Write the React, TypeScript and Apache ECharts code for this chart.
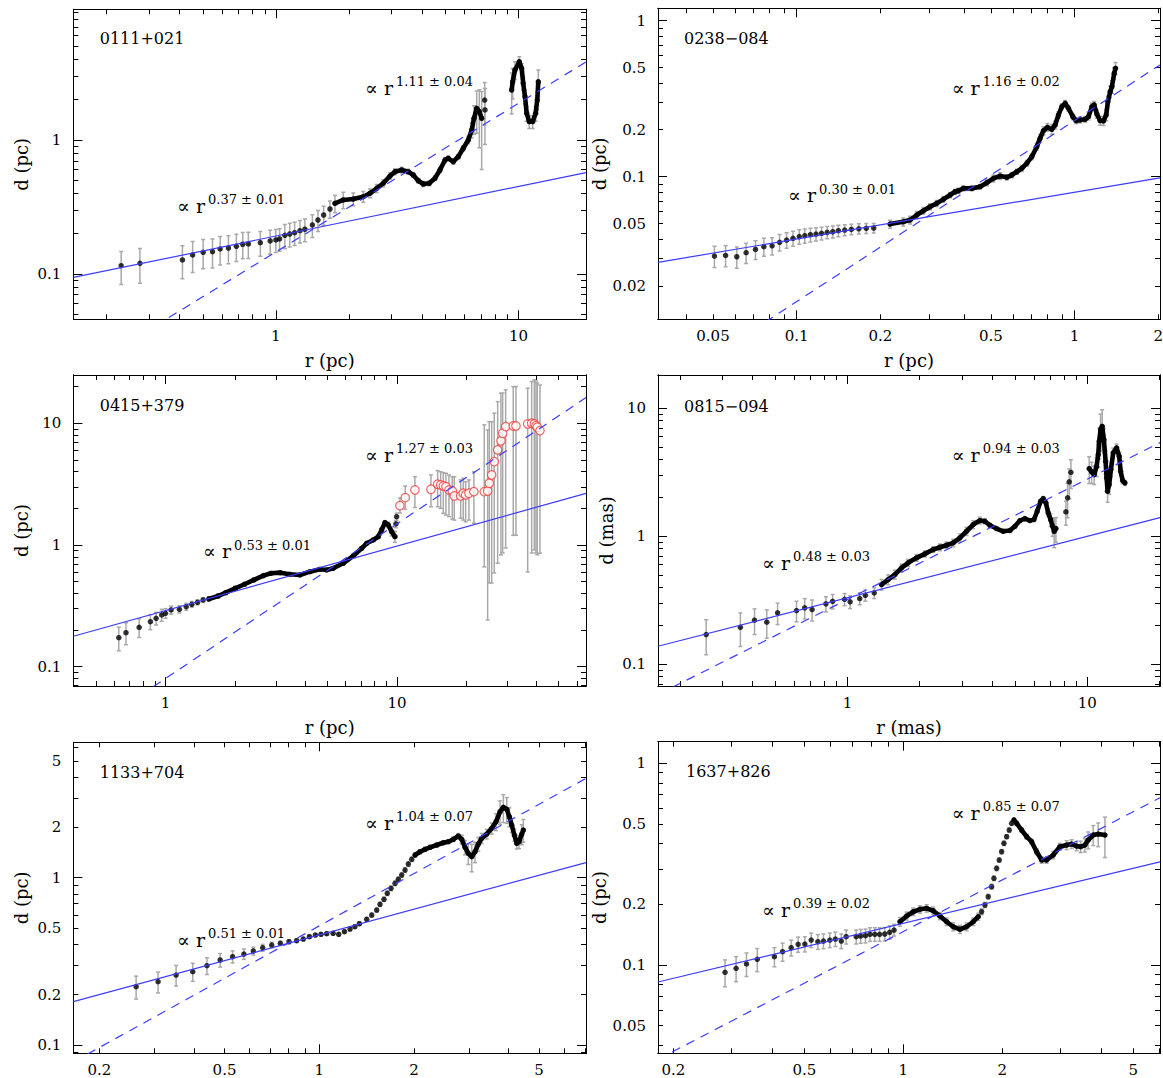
import { useEffect, useRef } from 'react';
import * as echarts from 'echarts';

// Jet width d against distance r, six sources on log-log axes.
// Point rows are [r, d, error on d]; open-circle rows are [r, d, lower, upper].
type Pt = [number, number, number];
type Bar = [number, number, number, number];

// ---------- 0111+021 ----------
const s0111XRange = [0.1465, 18.96];
const s0111YRange = [0.0459, 9.45];
const s0111XTicks = [1, 10];
const s0111YTicks = [0.1, 1];
const s0111Dots: Pt[] = [
  [0.2305, 0.1153, 0.032], [0.2754, 0.1202, 0.035], [0.4122, 0.1272, 0.035], [0.4541, 0.1387, 0.036],
  [0.5018, 0.1452, 0.036], [0.5483, 0.1467, 0.036], [0.5895, 0.1537, 0.037], [0.6377, 0.1563, 0.037],
  [0.6875, 0.161, 0.037], [0.7305, 0.1667, 0.037], [0.7703, 0.1675, 0.037], [0.863, 0.1714, 0.036],
  [0.9474, 0.1763, 0.036], [1.0, 0.1794, 0.035], [1.036, 0.1825, 0.035], [1.089, 0.1944, 0.04],
  [1.141, 0.1988, 0.04], [1.195, 0.2033, 0.04], [1.257, 0.2104, 0.04], [1.317, 0.2157, 0.042],
  [1.414, 0.2321, 0.045], [1.491, 0.2529, 0.045], [1.574, 0.2756, 0.045], [1.671, 0.3055, 0.045],
  [7.25, 1.988, 0.7], [7.27, 1.675, 0.75],
];
const s0111Track: Pt[] = [
  [1.752, 0.337, 0.05], [1.896, 0.3567, 0.05], [2.084, 0.3628, 0.04], [2.292, 0.3775, 0.035],
  [2.442, 0.4001, 0.03], [2.603, 0.436, 0.03], [2.771, 0.4752, 0.03], [2.952, 0.5385, 0.03],
  [3.095, 0.58, 0.03], [3.299, 0.5972, 0.03], [3.512, 0.58, 0.025], [3.683, 0.548, 0.02],
  [3.862, 0.4967, 0.02], [4.05, 0.4694, 0.02], [4.285, 0.4752, 0.02], [4.524, 0.518, 0.02],
  [4.745, 0.5972, 0.025], [4.975, 0.7089, 0.03], [5.133, 0.7302, 0.03], [5.382, 0.6887, 0.03],
  [5.644, 0.7507, 0.03], [5.918, 0.8671, 0.04], [6.205, 1.0, 0.06], [6.41, 1.187, 0.15],
  [6.551, 1.452, 0.35], [6.722, 1.724, 0.6], [6.891, 1.626, 0.75], [7.047, 1.452, 0.85],
];
const s0111Knot: Pt[] = [
  [9.367, 2.361, 0.8], [9.456, 2.723, 0.7], [9.665, 3.33, 0.5], [10.07, 3.839, 0.35],
  [10.3, 3.428, 0.3], [10.45, 2.649, 0.3], [10.63, 2.104, 0.25], [10.8, 1.582, 0.2],
  [11.07, 1.369, 0.15], [11.43, 1.369, 0.15], [11.76, 1.582, 0.2], [11.94, 1.988, 0.3],
  [12.06, 2.723, 0.6],
];
// [amplitude, exponent, exponent error]
const s0111Inner = [0.192, 0.37, 0.01];
const s0111Outer = [0.146, 1.11, 0.04];

// ---------- 0238-084 ----------
const s0238XRange = [0.0317, 2.03];
const s0238YRange = [0.0122, 1.2];
const s0238XTicks = [0.05, 0.1, 0.2, 0.5, 1, 2];
const s0238YTicks = [0.02, 0.05, 0.1, 0.2, 0.5, 1];
const s0238Dots: Pt[] = [
  [0.0506, 0.031, 0.0048], [0.0555, 0.0313, 0.0048], [0.0609, 0.0307, 0.0048], [0.0658, 0.0326, 0.0048],
  [0.0711, 0.0342, 0.0047], [0.0762, 0.0356, 0.0047], [0.0816, 0.0361, 0.0046], [0.0868, 0.038, 0.0046],
  [0.092, 0.0393, 0.0045], [0.097, 0.0403, 0.0045], [0.1022, 0.0413, 0.0044], [0.107, 0.0419, 0.0044],
  [0.1121, 0.0425, 0.0043], [0.1174, 0.0429, 0.0042], [0.1229, 0.0434, 0.0041], [0.1288, 0.044, 0.004],
  [0.1349, 0.0444, 0.0039], [0.1413, 0.0451, 0.0038], [0.1489, 0.0455, 0.0037], [0.1574, 0.046, 0.0036],
  [0.1674, 0.0464, 0.0035], [0.178, 0.0467, 0.0034], [0.1894, 0.0469, 0.0033],
];
const s0238Track: Pt[] = [
  [0.2168, 0.0497, 0.003], [0.2419, 0.0514, 0.003], [0.2559, 0.0528, 0.003], [0.2704, 0.0568, 0.003],
  [0.2857, 0.0605, 0.003], [0.302, 0.0642, 0.003], [0.3192, 0.0675, 0.003], [0.3372, 0.0716, 0.003],
  [0.3565, 0.0763, 0.003], [0.3715, 0.0801, 0.003], [0.3819, 0.0813, 0.003], [0.3981, 0.0842, 0.003],
  [0.4268, 0.0842, 0.003], [0.4572, 0.0863, 0.003], [0.4832, 0.0915, 0.004], [0.5105, 0.0976, 0.005],
  [0.5396, 0.101, 0.005], [0.5705, 0.0991, 0.004], [0.5943, 0.1025, 0.004], [0.6198, 0.1076, 0.004],
  [0.6459, 0.1132, 0.005], [0.6732, 0.1219, 0.005], [0.7017, 0.1343, 0.006], [0.7314, 0.1557, 0.008],
  [0.7517, 0.1763, 0.01], [0.7727, 0.1972, 0.012], [0.7988, 0.2073, 0.012], [0.8286, 0.2013, 0.015],
  [0.8515, 0.2145, 0.012], [0.8752, 0.2486, 0.012], [0.9, 0.2811, 0.012], [0.9252, 0.2954, 0.012],
  [0.9507, 0.2745, 0.012], [0.986, 0.2425, 0.01], [1.0134, 0.2286, 0.01], [1.0476, 0.231, 0.01],
  [1.0919, 0.2333, 0.01], [1.1222, 0.2425, 0.012], [1.1542, 0.2811, 0.015], [1.1765, 0.2882, 0.015],
  [1.2031, 0.2523, 0.015], [1.2363, 0.2286, 0.015], [1.2706, 0.2276, 0.015], [1.2997, 0.2486, 0.02],
  [1.3182, 0.3026, 0.025], [1.3436, 0.3507, 0.03], [1.3627, 0.3775, 0.035], [1.3889, 0.4601, 0.04],
  [1.404, 0.4953, 0.045],
];
const s0238Inner = [0.0796, 0.3, 0.01];
const s0238Outer = [0.229, 1.16, 0.02];

// ---------- 0415+379 ----------
const s0415XRange = [0.4, 65.6];
const s0415YRange = [0.0694, 24.9];
const s0415XTicks = [1, 10];
const s0415YTicks = [0.1, 1, 10];
const s0415Dots: Pt[] = [
  [0.6284, 0.1731, 0.038], [0.675, 0.1903, 0.039], [0.7696, 0.2108, 0.037], [0.8604, 0.2344, 0.033],
  [0.9107, 0.2498, 0.03], [0.9629, 0.266, 0.03], [1.0, 0.2747, 0.025], [1.0573, 0.2923, 0.022],
  [1.1483, 0.2962, 0.02], [1.229, 0.3112, 0.02], [1.2992, 0.3256, 0.018], [1.3751, 0.3381, 0.016],
  [1.4538, 0.3532, 0.015], [9.9, 1.488, 0.1], [9.97, 1.708, 0.12],
];
const s0415Track: Pt[] = [
  [1.5388, 0.3599, 0.015], [1.6895, 0.3809, 0.015], [1.8199, 0.4056, 0.015], [1.9989, 0.4407, 0.015],
  [2.1944, 0.4755, 0.015], [2.4099, 0.516, 0.015], [2.6491, 0.5596, 0.015], [2.8543, 0.5855, 0.015],
  [3.1335, 0.5921, 0.015], [3.442, 0.5744, 0.015], [3.8088, 0.5669, 0.015], [4.2073, 0.6035, 0.015],
  [4.6484, 0.6314, 0.015], [4.9682, 0.6231, 0.015], [5.3038, 0.6433, 0.02], [5.8611, 0.7073, 0.02],
  [6.4758, 0.8122, 0.025], [7.0403, 0.9395, 0.03], [7.3978, 1.0327, 0.03], [7.8993, 1.0992, 0.035],
  [8.3039, 1.17, 0.04], [8.5897, 1.3283, 0.05], [8.8753, 1.5248, 0.06], [9.1723, 1.4599, 0.08],
  [9.488, 1.2862, 0.1], [9.804, 1.17, 0.12],
];
const s0415Open: Bar[] = [
  [10.3, 2.103, 1.83, 2.43], [10.86, 2.447, 1.97, 3.05], [11.96, 2.831, 2.03, 3.64], [14.03, 2.869, 2.06, 3.76],
  [15.0, 3.154, 2.06, 4.08], [15.45, 3.112, 2.0, 4.0], [15.86, 3.053, 1.82, 3.93], [16.28, 3.013, 1.76, 3.88],
  [16.78, 2.831, 1.71, 3.76], [17.34, 2.778, 1.63, 3.64], [17.69, 2.527, 1.6, 3.64], [18.85, 2.527, 1.66, 3.42],
  [19.34, 2.66, 1.6, 3.53], [19.81, 2.576, 1.55, 3.31], [20.47, 2.66, 1.6, 3.42], [21.51, 2.742, 1.51, 4.0],
  [23.84, 2.742, 0.66, 9.7], [24.66, 2.778, 0.242, 8.81], [25.06, 3.214, 0.487, 10.3], [25.66, 3.76, 0.487, 10.3],
  [26.33, 4.836, 0.589, 12.08], [27.24, 6.035, 0.707, 15.05], [28.14, 7.155, 0.828, 17.64], [28.63, 8.278, 0.86, 17.7],
  [29.5, 9.378, 0.945, 18.8], [31.81, 9.502, 1.2, 20.0], [32.68, 9.502, 1.2, 20.0], [36.72, 9.868, 0.6, 19.4],
  [38.21, 10.0, 0.86, 22.0], [39.22, 9.868, 0.91, 22.7], [39.88, 9.557, 0.86, 22.2], [40.4, 9.271, 0.83, 21.4],
  [41.5, 8.695, 0.855, 20.6],
];
const s0415Inner = [0.289, 0.53, 0.01];
const s0415Outer = [0.08, 1.27, 0.03];

// ---------- 0815-094 ----------
const s0815XRange = [0.162, 20.1];
const s0815YRange = [0.0676, 18.2];
const s0815XTicks = [1, 10];
const s0815YTicks = [0.1, 1, 10];
const s0815Dots: Pt[] = [
  [0.2573, 0.1706, 0.052], [0.3574, 0.1945, 0.057], [0.4093, 0.2207, 0.05], [0.4605, 0.2129, 0.053],
  [0.5109, 0.2521, 0.048], [0.6126, 0.2627, 0.048], [0.6629, 0.2758, 0.05], [0.7115, 0.2675, 0.05],
  [0.8126, 0.2963, 0.04], [0.8666, 0.3105, 0.04], [0.9716, 0.3219, 0.035], [1.0252, 0.3072, 0.035],
  [1.1242, 0.3261, 0.035], [1.1867, 0.3459, 0.035], [1.2922, 0.3612, 0.035],
  [8.1413, 1.5506, 0.33], [8.2756, 1.9953, 0.6], [8.4045, 2.6607, 0.7], [8.5432, 3.1623, 0.8],
];
const s0815Track: Pt[] = [
  [1.3865, 0.4195, 0.04], [1.4769, 0.4588, 0.04], [1.5753, 0.5021, 0.04], [1.6799, 0.5664, 0.04],
  [1.789, 0.6198, 0.04], [1.9409, 0.6782, 0.04], [2.1012, 0.7286, 0.04], [2.2755, 0.7871, 0.04],
  [2.4273, 0.8206, 0.05], [2.5882, 0.8506, 0.05], [2.7581, 0.8878, 0.06], [2.9414, 0.9716, 0.07],
  [3.1369, 1.0942, 0.08], [3.342, 1.2342, 0.09], [3.5645, 1.3267, 0.08], [3.7387, 1.3098, 0.06],
  [3.9234, 1.2186, 0.04], [4.1834, 1.1487, 0.03], [4.4592, 1.0942, 0.03], [4.755, 1.1079, 0.03],
  [4.9888, 1.1968, 0.03], [5.2349, 1.3267, 0.03], [5.4926, 1.3752, 0.03], [5.7636, 1.3267, 0.03],
  [5.9901, 1.3508, 0.04], [6.1802, 1.5674, 0.05], [6.386, 1.8766, 0.06], [6.5483, 1.9702, 0.07],
  [6.7197, 1.8236, 0.08], [6.8699, 1.523, 0.1], [7.03, 1.3508, 0.15], [7.1659, 1.1968, 0.2],
  [7.2774, 1.0942, 0.28], [7.3961, 1.1487, 0.25],
];
const s0815Knot: Pt[] = [
  [10.183, 3.3806, 0.8], [10.421, 3.1852, 0.6], [10.685, 3.0339, 0.5], [10.934, 3.5237, 0.6],
  [11.104, 4.3482, 0.9], [11.21, 5.5234, 1.5], [11.361, 6.8164, 2.2], [11.537, 7.2328, 2.5],
  [11.728, 5.6944, 1.2], [11.921, 3.8534, 0.8], [12.036, 2.8594, 0.6], [12.152, 2.2466, 0.4],
  [12.341, 2.5342, 0.4], [12.545, 3.3205, 0.4], [12.825, 4.4833, 0.4], [13.251, 4.9054, 0.35],
  [13.586, 4.217, 0.3], [13.771, 3.2195, 0.2], [14.039, 2.7243, 0.15], [14.35, 2.6137, 0.12],
];
const s0815Inner = [0.331, 0.48, 0.03];
const s0815Outer = [0.321, 0.94, 0.03];

// ---------- 1133+704 ----------
const s1133XRange = [0.1654, 7.05];
const s1133YRange = [0.0892, 6.45];
const s1133XTicks = [0.2, 0.5, 1, 2, 5];
const s1133YTicks = [0.1, 0.2, 0.5, 1, 2, 5];
const s1133Dots: Pt[] = [
  [0.2618, 0.2231, 0.035], [0.3074, 0.2389, 0.034], [0.3508, 0.262, 0.037], [0.3962, 0.2742, 0.034],
  [0.4397, 0.2979, 0.034], [0.4843, 0.3222, 0.03], [0.5305, 0.3372, 0.028], [0.5761, 0.3499, 0.025],
  [0.6173, 0.3647, 0.02], [0.6612, 0.3815, 0.018], [0.7063, 0.396, 0.015], [0.7524, 0.4054, 0.012],
  [0.8016, 0.4145, 0.012], [0.8475, 0.4202, 0.01], [0.8901, 0.4301, 0.01], [0.9307, 0.4439, 0.01],
  [0.9725, 0.4545, 0.01], [1.0132, 0.4589, 0.01], [1.0564, 0.4628, 0.01], [1.1071, 0.4653, 0.01],
  [1.1534, 0.4589, 0.01], [1.2027, 0.4756, 0.01], [1.253, 0.4935, 0.012], [1.2984, 0.5096, 0.012],
  [1.342, 0.5309, 0.014], [1.4158, 0.5641, 0.015], [1.4688, 0.5984, 0.016], [1.5232, 0.6411, 0.018],
  [1.5605, 0.6934, 0.02], [1.6069, 0.7428, 0.022], [1.6462, 0.807, 0.025], [1.6915, 0.8642, 0.028],
  [1.7418, 0.9258, 0.03], [1.7844, 0.9781, 0.032], [1.8294, 1.0378, 0.035], [1.8742, 1.1117, 0.037],
  [1.92, 1.2075, 0.04], [1.9685, 1.2882, 0.04],
];
const s1133Track: Pt[] = [
  [2.0166, 1.367, 0.04], [2.0919, 1.4304, 0.04], [2.17, 1.4786, 0.04], [2.2509, 1.5197, 0.04],
  [2.364, 1.5687, 0.04], [2.4806, 1.6192, 0.04], [2.5733, 1.6417, 0.04], [2.6692, 1.6965, 0.05],
  [2.7689, 1.7757, 0.06], [2.8386, 1.6965, 0.1], [2.9081, 1.5197, 0.15], [2.9793, 1.3991, 0.2],
  [3.0543, 1.3351, 0.25], [3.1291, 1.4304, 0.2], [3.2056, 1.5905, 0.15], [3.2863, 1.7201, 0.12],
  [3.4089, 1.8246, 0.12], [3.5361, 1.974, 0.15], [3.6494, 2.1617, 0.25], [3.7579, 2.4803, 0.4],
  [3.8496, 2.6349, 0.5], [3.9466, 2.5631, 0.45], [4.0227, 2.3159, 0.3], [4.0938, 2.0654, 0.2],
  [4.173, 1.7995, 0.15], [4.2462, 1.6058, 0.12], [4.3182, 1.6417, 0.15], [4.4047, 1.8246, 0.25],
  [4.4566, 1.9282, 0.3],
];
const s1133Inner = [0.455, 0.51, 0.01];
const s1133Outer = [0.515, 1.04, 0.07];

// ---------- 1637+826 ----------
const s1637XRange = [0.1795, 6.03];
const s1637YRange = [0.0365, 1.28];
const s1637XTicks = [0.2, 0.5, 1, 2, 5];
const s1637YTicks = [0.05, 0.1, 0.2, 0.5, 1];
const s1637Dots: Pt[] = [
  [0.287, 0.092, 0.014], [0.3101, 0.0963, 0.0137], [0.3335, 0.1012, 0.0135], [0.3596, 0.1067, 0.014],
  [0.4055, 0.11, 0.012], [0.4294, 0.1164, 0.012], [0.456, 0.1218, 0.011], [0.4787, 0.1266, 0.011],
  [0.5018, 0.1271, 0.011], [0.5246, 0.133, 0.011], [0.5497, 0.1305, 0.011], [0.5716, 0.1315, 0.011],
  [0.5975, 0.133, 0.011], [0.6213, 0.1345, 0.011], [0.6477, 0.1315, 0.011], [0.6701, 0.1381, 0.011],
  [0.7188, 0.1381, 0.011], [0.7417, 0.1392, 0.011], [0.7671, 0.1397, 0.011], [0.7916, 0.142, 0.011],
  [0.8188, 0.142, 0.011], [0.8467, 0.142, 0.011], [0.8781, 0.1425, 0.011], [0.9087, 0.1453, 0.011],
  [0.937, 0.1491, 0.01],
  [1.7298, 0.1837, 0.006], [1.7701, 0.1984, 0.006], [1.8117, 0.2182, 0.006], [1.8552, 0.2445, 0.007],
  [1.8855, 0.2691, 0.007], [1.9214, 0.3015, 0.008], [1.9567, 0.3316, 0.008], [1.9898, 0.3645, 0.009],
  [2.0222, 0.4013, 0.01], [2.0607, 0.4327, 0.01], [2.0985, 0.467, 0.012], [2.1341, 0.5041, 0.012],
];
const s1637Track: Pt[] = [
  [0.9765, 0.1639, 0.008], [1.0233, 0.1749, 0.008], [1.0717, 0.1837, 0.008], [1.1233, 0.1888, 0.008],
  [1.1771, 0.191, 0.008], [1.2326, 0.1858, 0.008], [1.2918, 0.1749, 0.007], [1.354, 0.1639, 0.007],
  [1.418, 0.1548, 0.007], [1.486, 0.1503, 0.007], [1.5573, 0.1548, 0.007], [1.6312, 0.1639, 0.007],
  [1.6893, 0.1736, 0.007],
];
const s1637Crest: Pt[] = [
  [2.1688, 0.5235, 0.012], [2.2102, 0.5041, 0.012], [2.2889, 0.467, 0.012], [2.3705, 0.4327, 0.012],
  [2.4547, 0.4088, 0.012], [2.5421, 0.3645, 0.012], [2.6325, 0.3316, 0.012], [2.7262, 0.3316, 0.012],
  [2.855, 0.351, 0.015], [2.9923, 0.386, 0.015], [3.1363, 0.3935, 0.02], [3.248, 0.398, 0.02],
  [3.3635, 0.389, 0.02], [3.4592, 0.386, 0.025], [3.5645, 0.3935, 0.03], [3.6475, 0.4166, 0.04],
  [3.7774, 0.4411, 0.05], [3.9119, 0.4462, 0.06], [4.1013, 0.4411, 0.1],
];
const s1637Inner = [0.161, 0.39, 0.02];
const s1637Outer = [0.1466, 0.85, 0.07];

// ---------- panel layout ----------
interface Panel {
  source: string;
  xName: string;
  yName: string;
  xRange: number[];
  yRange: number[];
  xTicks: number[];
  yTicks: number[];
  dots: Pt[];
  tracks: Pt[][];
  open: Bar[];
  inner: number[];
  outer: number[];
  box: number[]; // left, top, width, height (px)
  sourceAt: number[];
  innerAt: number[]; // x, main y, exponent y
  outerAt: number[];
}

const panels: Panel[] = [
  {
    source: '0111+021', xName: 'r (pc)', yName: 'd (pc)',
    xRange: s0111XRange, yRange: s0111YRange, xTicks: s0111XTicks, yTicks: s0111YTicks,
    dots: s0111Dots, tracks: [s0111Track, s0111Knot], open: [], inner: s0111Inner, outer: s0111Outer,
    box: [73.4, 9.3, 512.6, 310], sourceAt: [99.7, 38], innerAt: [177, 206, 199], outerAt: [365, 88, 81],
  },
  {
    source: '0238\u2212084', xName: 'r (pc)', yName: 'd (pc)',
    xRange: s0238XRange, yRange: s0238YRange, xTicks: s0238XTicks, yTicks: s0238YTicks,
    dots: s0238Dots, tracks: [s0238Track], open: [], inner: s0238Inner, outer: s0238Outer,
    box: [658, 8.3, 502, 311], sourceAt: [684, 38], innerAt: [788, 195, 189], outerAt: [951.7, 88, 81],
  },
  {
    source: '0415+379', xName: 'r (pc)', yName: 'd (pc)',
    xRange: s0415XRange, yRange: s0415YRange, xTicks: s0415XTicks, yTicks: s0415YTicks,
    dots: s0415Dots, tracks: [s0415Track], open: s0415Open, inner: s0415Inner, outer: s0415Outer,
    box: [73.4, 375, 512.6, 311], sourceAt: [99.7, 405], innerAt: [203, 551, 545], outerAt: [365, 455, 448],
  },
  {
    source: '0815\u2212094', xName: 'r (mas)', yName: 'd (mas)',
    xRange: s0815XRange, yRange: s0815YRange, xTicks: s0815XTicks, yTicks: s0815YTicks,
    dots: s0815Dots, tracks: [s0815Track, s0815Knot], open: [], inner: s0815Inner, outer: s0815Outer,
    box: [658, 375, 502, 311], sourceAt: [684, 406.5], innerAt: [762, 563, 556.5], outerAt: [951.7, 454.5, 448],
  },
  {
    source: '1133+704', xName: '', yName: 'd (pc)',
    xRange: s1133XRange, yRange: s1133YRange, xTicks: s1133XTicks, yTicks: s1133YTicks,
    dots: s1133Dots, tracks: [s1133Track], open: [], inner: s1133Inner, outer: s1133Outer,
    box: [73.4, 742.3, 512.6, 311], sourceAt: [99.7, 772], innerAt: [177, 939.5, 933], outerAt: [365, 823, 816],
  },
  {
    source: '1637+826', xName: '', yName: 'd (pc)',
    xRange: s1637XRange, yRange: s1637YRange, xTicks: s1637XTicks, yTicks: s1637YTicks,
    dots: s1637Dots, tracks: [s1637Track, s1637Crest], open: [], inner: s1637Inner, outer: s1637Outer,
    box: [658, 741.7, 502, 311.6], sourceAt: [686, 771.5], innerAt: [762, 909.5, 903], outerAt: [951.7, 813, 806],
  },
];

const FONT = '"DejaVu Serif", "Liberation Serif", serif';
const FIT_BLUE = '#3c3cff';
const BAR_GREY = '#a9a9a9';

function logTicks(range: number[], major: boolean): number[] {
  const out: number[] = [];
  const k0 = Math.floor(Math.log10(range[0]));
  const k1 = Math.ceil(Math.log10(range[1]));
  for (let k = k0; k <= k1; k++) {
    for (let m = 1; m <= 9; m++) {
      if ((m === 1) !== major) continue;
      const v = parseFloat((m * Math.pow(10, k)).toPrecision(6));
      if (v >= range[0] && v <= range[1]) out.push(v);
    }
  }
  return out;
}

function fmt(v: number): string {
  return String(parseFloat(Number(v).toPrecision(4)));
}

function baseAxis(gi: number, range: number[], position: string, ticks: number[], len: number) {
  return {
    type: 'log',
    logBase: 10,
    gridIndex: gi,
    position,
    offset: 0,
    min: range[0],
    max: range[1],
    axisLine: { show: true, onZero: false, lineStyle: { color: '#000', width: 1 } },
    axisTick: { show: true, inside: true, length: len, customValues: ticks, lineStyle: { color: '#000', width: 1 } },
    axisLabel: { show: false },
    splitLine: { show: false },
    minorTick: { show: false },
    minorSplitLine: { show: false },
    axisPointer: { show: false },
  };
}

function errorRender(params: any, api: any) {
  const r = api.value(0);
  const lo = api.value(2);
  const hi = api.value(3);
  const top = api.coord([r, hi]);
  const bot = api.coord([r, lo]);
  const style = { stroke: BAR_GREY, lineWidth: 1.5 };
  return {
    type: 'group',
    children: [
      { type: 'line', shape: { x1: top[0], y1: top[1], x2: bot[0], y2: bot[1] }, style },
      { type: 'line', shape: { x1: top[0] - 2, y1: top[1], x2: top[0] + 2, y2: top[1] }, style },
      { type: 'line', shape: { x1: bot[0] - 2, y1: bot[1], x2: bot[0] + 2, y2: bot[1] }, style },
    ],
  };
}

function toBar(p: Pt): Bar {
  return [p[0], p[1], p[1] - p[2], p[1] + p[2]];
}

function fitPoints(fit: number[], range: number[]) {
  return [range[0], range[1]].map((r) => [r, fit[0] * Math.pow(r, fit[1])]);
}

function expText(fit: number[]) {
  return `${fit[1].toFixed(2)} \u00b1 ${fit[2].toFixed(2)}`;
}

function buildOption() {
  const grid: any[] = [];
  const xAxis: any[] = [];
  const yAxis: any[] = [];
  const series: any[] = [];
  const graphic: any[] = [];

  panels.forEach((p, gi) => {
    const [left, top, width, height] = p.box;
    grid.push({ left, top, width, height, show: false, containLabel: false, outerBoundsMode: 'none' });

    const xi = xAxis.length;
    const yi = yAxis.length;
    const xMajor = logTicks(p.xRange, true);
    const xMinor = logTicks(p.xRange, false);
    const yMajor = logTicks(p.yRange, true);
    const yMinor = logTicks(p.yRange, false);

    xAxis.push({
      ...baseAxis(gi, p.xRange, 'bottom', xMajor, 9),
      axisLabel: {
        show: true, customValues: p.xTicks, formatter: fmt, margin: 9,
        color: '#000', fontFamily: FONT, fontSize: 15,
      },
      name: p.xName,
      nameLocation: 'middle',
      nameGap: 32,
      nameTextStyle: { color: '#000', fontFamily: FONT, fontSize: 18 },
    });
    xAxis.push(baseAxis(gi, p.xRange, 'bottom', xMinor, 5));
    xAxis.push(baseAxis(gi, p.xRange, 'top', xMajor, 9));
    xAxis.push(baseAxis(gi, p.xRange, 'top', xMinor, 5));

    yAxis.push({
      ...baseAxis(gi, p.yRange, 'left', yMajor, 9),
      axisLabel: {
        show: true, customValues: p.yTicks, formatter: fmt, margin: 12,
        color: '#000', fontFamily: FONT, fontSize: 15,
      },
      name: p.yName,
      nameLocation: 'middle',
      nameGap: 43,
      nameTextStyle: { color: '#000', fontFamily: FONT, fontSize: 18 },
    });
    yAxis.push(baseAxis(gi, p.yRange, 'left', yMinor, 5));
    yAxis.push(baseAxis(gi, p.yRange, 'right', yMajor, 9));
    yAxis.push(baseAxis(gi, p.yRange, 'right', yMinor, 5));

    const onAxes = { xAxisIndex: xi, yAxisIndex: yi };
    const trackPts = p.tracks.flat();
    const bars: Bar[] = [...p.dots.map(toBar), ...trackPts.map(toBar), ...p.open];

    series.push({
      type: 'custom', ...onAxes, data: bars, encode: { x: 0, y: 1 },
      renderItem: errorRender, clip: true, silent: true, z: 1,
    });

    p.tracks.forEach((t) => {
      series.push({
        type: 'line', ...onAxes, data: t.map((q) => [q[0], q[1]]),
        showSymbol: false, symbol: 'none', silent: true, z: 2,
        lineStyle: { color: '#000', width: 4.6, cap: 'round', join: 'round' },
      });
    });

    series.push({
      type: 'scatter', ...onAxes, data: [...p.dots, ...trackPts].map((q) => [q[0], q[1]]),
      symbol: 'circle', symbolSize: 5.5, silent: true, z: 3,
      itemStyle: { color: '#000' },
    });

    if (p.open.length) {
      series.push({
        type: 'scatter', ...onAxes, data: p.open.map((q) => [q[0], q[1]]),
        symbol: 'circle', symbolSize: 8.5, silent: true, z: 3,
        itemStyle: { color: '#ffffff', borderColor: '#f03c3c', borderWidth: 1.2 },
      });
    }

    series.push({
      type: 'line', ...onAxes, data: fitPoints(p.inner, p.xRange),
      showSymbol: false, symbol: 'none', silent: true, z: 4, clip: true,
      lineStyle: { color: FIT_BLUE, width: 1.2, type: 'solid' },
    });
    series.push({
      type: 'line', ...onAxes, data: fitPoints(p.outer, p.xRange),
      showSymbol: false, symbol: 'none', silent: true, z: 4, clip: true,
      lineStyle: { color: FIT_BLUE, width: 1.2, type: [9, 7] },
    });

    const textStyle = (text: string, size: number) => ({
      text, fill: '#000', font: `${size}px ${FONT}`,
      align: 'left', verticalAlign: 'middle', textAlign: 'left', textVerticalAlign: 'middle',
    });
    graphic.push({ type: 'text', x: p.sourceAt[0], y: p.sourceAt[1], silent: true, style: textStyle(p.source, 16) });
    [[p.inner, p.innerAt], [p.outer, p.outerAt]].forEach(([fit, at]) => {
      graphic.push({ type: 'text', x: at[0], y: at[1], silent: true, style: textStyle('\u221d r', 19) });
      graphic.push({ type: 'text', x: at[0] + 31, y: at[2], silent: true, style: textStyle(expText(fit), 13) });
    });
  });

  return {
    animation: false,
    backgroundColor: '#ffffff',
    textStyle: { fontFamily: FONT, color: '#000' },
    tooltip: { show: false },
    grid,
    xAxis,
    yAxis,
    series,
    graphic: { elements: graphic },
  };
}

export default function App() {
  const ref = useRef<HTMLDivElement>(null);
  useEffect(() => {
    document.body.style.margin = '0';
    const chart = echarts.init(ref.current as HTMLDivElement, null, { renderer: 'svg' });
    chart.setOption(buildOption() as any);
    return () => {
      chart.dispose();
    };
  }, []);
  return <div ref={ref} style={{ width: 1163, height: 1078 }} />;
}
